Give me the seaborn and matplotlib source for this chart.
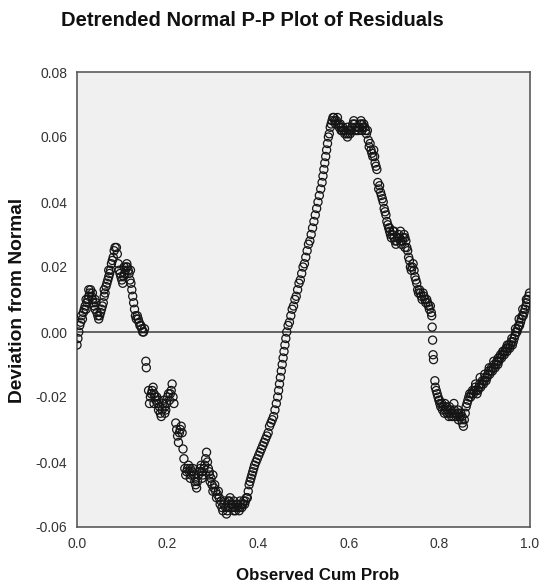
import numpy as np
import pandas as pd
import matplotlib
matplotlib.use("Agg")
import matplotlib.pyplot as plt
import seaborn as sns
from matplotlib.ticker import FixedLocator, FixedFormatter

# ---- data (observed cum prob vs deviation from normal) ----
obs_cum_prob = [
    0.000,0.002,0.004,0.006,0.008,0.010,0.012,0.014,0.016,0.018,0.020,0.022,0.024,0.026,0.028,0.030,0.032,
    0.034,0.036,0.038,0.040,0.042,0.044,0.046,0.048,0.050,0.052,0.054,
    0.056,0.058,0.060,0.062,0.064,0.066,0.068,0.070,0.072,0.074,0.076,0.078,0.080,0.082,0.084,0.087,
    0.089,0.091,0.093,0.095,0.097,0.099,0.101,0.103,0.105,0.107,0.109,0.111,0.113,0.115,0.117,0.119,0.121,0.123,0.125,0.127,0.129,0.131,0.133,0.135,0.137,0.139,0.141,0.143,0.145,0.147,0.149,
    0.152,0.153,
    0.158,0.160,0.162,0.164,0.166,0.168,0.170,0.172,0.174,0.176,0.178,0.180,0.182,0.184,0.186,0.188,0.190,0.192,0.194,0.196,0.198,0.200,0.202,0.204,0.206,0.208,0.210,0.212,0.214,
    0.218,0.220,0.222,0.224,0.226,0.228,0.230,0.232,0.234,0.236,
    0.238,0.240,0.242,0.244,0.246,0.248,0.250,0.252,0.254,0.256,0.258,0.260,0.262,0.264,0.266,0.268,0.270,0.272,0.274,0.276,0.278,0.280,0.282,0.284,0.286,0.288,0.290,0.292,0.294,0.296,0.298,0.300,0.302,0.304,0.306,0.308,0.310,0.312,0.314,0.316,0.318,
    0.320,0.322,0.324,0.326,0.328,0.330,0.332,0.334,0.336,0.338,0.340,0.342,0.344,0.346,0.348,0.350,0.352,0.354,0.356,0.358,0.360,0.362,0.364,0.366,0.368,0.370,0.372,0.374,
    0.376,0.378,0.380,0.382,0.384,0.386,0.388,0.390,0.392,0.395,0.398,0.401,0.404,0.407,0.410,0.413,0.416,0.419,0.422,0.425,0.428,0.431,0.434,0.437,0.440,0.443,0.445,0.447,0.449,0.451,0.453,0.455,0.457,0.459,0.461,0.463,0.466,0.469,0.472,0.475,0.478,0.481,0.484,0.487,0.490,0.493,0.496,0.499,0.502,0.505,0.508,0.511,0.514,0.517,0.520,0.523,0.526,0.529,0.532,0.535,0.538,0.541,0.543,0.545,0.547,0.549,0.551,0.553,0.555,0.557,0.559,0.561,0.563,0.565,
    0.567,0.569,0.571,0.573,0.575,0.577,0.579,0.581,0.583,0.585,0.587,0.589,0.591,0.593,0.595,0.597,0.599,0.601,0.603,0.605,0.607,0.609,0.611,0.613,0.615,0.617,0.619,0.621,0.623,0.625,0.627,0.629,0.631,0.633,0.635,0.637,0.639,0.641,
    0.643,0.645,0.647,0.649,0.651,0.653,0.655,0.657,0.658,0.660,0.662,
    0.664,0.666,0.668,0.670,0.672,0.674,0.676,0.678,0.680,0.682,0.684,0.686,0.688,0.690,0.692,0.694,0.696,0.698,0.700,0.702,0.704,0.706,0.708,0.710,0.712,0.714,0.716,0.718,0.720,0.722,0.724,0.726,0.728,0.730,0.732,0.734,0.736,0.738,0.740,0.742,0.744,0.746,0.748,0.750,0.752,0.754,0.756,0.758,0.760,0.762,0.764,0.766,0.768,0.770,0.772,0.774,0.776,0.778,0.780,0.782,0.783,0.784,0.785,0.786,0.787,
    0.790,0.791,0.793,0.795,0.797,0.799,0.801,0.803,0.805,0.807,0.809,0.811,0.813,0.815,0.817,0.819,0.821,0.823,0.825,0.827,0.829,0.831,0.833,0.835,0.837,0.839,0.841,0.843,0.845,0.847,0.849,0.851,0.853,0.855,0.857,0.859,0.861,0.863,0.865,0.867,
    0.869,0.871,0.873,0.875,0.877,0.879,0.881,0.883,0.885,0.887,0.889,0.891,0.893,0.895,0.897,0.899,0.901,0.903,0.905,0.907,0.909,0.911,0.913,0.915,0.917,0.919,0.921,0.923,0.925,0.927,0.929,0.931,0.933,0.935,0.937,0.939,0.941,0.943,0.945,0.947,0.949,0.951,0.953,0.955,0.957,0.959,0.961,0.963,0.965,0.967,0.969,0.971,0.973,0.975,0.977,0.979,0.981,0.983,0.985,0.987,0.989,0.991,0.993,0.995,0.997,0.999,
]
deviation = [
    -0.004,-0.002,0.000,0.002,0.003,0.005,0.004,0.006,0.007,0.008,0.007,0.009,0.010,0.011,0.012,0.013,0.011,
    0.010,0.009,0.008,0.007,0.009,0.006,0.005,0.004,0.005,0.006,0.007,
    0.008,0.009,0.011,0.012,0.014,0.015,0.016,0.017,0.018,0.019,0.021,0.022,0.023,0.025,0.026,0.026,
    0.024,0.021,0.019,0.018,0.017,0.016,0.015,0.017,0.018,0.019,0.020,0.020,0.019,0.018,0.016,0.015,0.013,0.011,0.009,0.007,0.005,0.004,0.005,0.004,0.003,0.002,0.002,0.001,0.000,0.000,0.001,
    -0.009,-0.011,
    -0.018,-0.022,-0.020,-0.019,-0.018,-0.017,-0.019,-0.020,-0.021,-0.020,-0.022,-0.024,-0.023,-0.025,-0.026,-0.024,-0.022,-0.021,-0.023,-0.024,-0.022,-0.020,-0.019,-0.021,-0.019,-0.018,-0.016,-0.020,-0.022,
    -0.028,-0.030,-0.032,-0.034,-0.031,-0.030,-0.029,-0.031,-0.036,-0.039,
    -0.042,-0.044,-0.043,-0.042,-0.041,-0.043,-0.045,-0.044,-0.043,-0.042,-0.044,-0.046,-0.047,-0.048,-0.046,-0.044,-0.043,-0.042,-0.041,-0.043,-0.044,-0.042,-0.041,-0.039,-0.037,-0.040,-0.042,-0.044,-0.046,-0.045,-0.047,-0.049,-0.048,-0.047,-0.049,-0.051,-0.050,-0.049,-0.051,-0.053,-0.052,
    -0.054,-0.055,-0.053,-0.052,-0.054,-0.056,-0.055,-0.054,-0.052,-0.051,-0.053,-0.054,-0.053,-0.052,-0.054,-0.055,-0.054,-0.053,-0.054,-0.055,-0.054,-0.053,-0.054,-0.053,-0.052,-0.053,-0.052,-0.051,
    -0.051,-0.049,-0.047,-0.046,-0.045,-0.044,-0.043,-0.042,-0.041,-0.040,-0.039,-0.038,-0.037,-0.036,-0.035,-0.034,-0.033,-0.032,-0.031,-0.029,-0.028,-0.027,-0.026,-0.024,-0.022,-0.020,-0.018,-0.016,-0.014,-0.012,-0.010,-0.008,-0.006,-0.004,-0.002,0.000,0.002,0.003,0.005,0.007,0.008,0.010,0.011,0.013,0.015,0.016,0.018,0.020,0.021,0.023,0.025,0.027,0.028,0.030,0.032,0.034,0.036,0.038,0.040,0.042,0.044,0.046,0.048,0.050,0.052,0.054,0.056,0.058,0.060,0.061,0.063,0.064,0.065,0.066,
    0.066,0.065,0.064,0.065,0.066,0.064,0.063,0.064,0.063,0.062,0.063,0.062,0.061,0.062,0.061,0.060,0.061,0.062,0.061,0.062,0.063,0.064,0.065,0.064,0.063,0.062,0.063,0.062,0.063,0.064,0.065,0.064,0.063,0.064,0.063,0.062,0.061,0.062,
    0.059,0.057,0.058,0.056,0.055,0.054,0.056,0.054,0.052,0.051,0.050,
    0.046,0.044,0.045,0.043,0.042,0.041,0.040,0.038,0.037,0.036,0.034,0.033,0.032,0.031,0.030,0.029,0.030,0.031,0.029,0.028,0.027,0.028,0.029,0.030,0.029,0.028,0.027,0.028,0.029,0.030,0.029,0.028,0.026,0.025,0.023,0.022,0.020,0.019,0.020,0.021,0.019,0.017,0.016,0.015,0.013,0.012,0.013,0.012,0.011,0.010,0.012,0.011,0.010,0.009,0.010,0.009,0.008,0.007,0.008,0.006,0.005,0.0015,-0.0025,-0.007,-0.0085,
    -0.015,-0.017,-0.018,-0.019,-0.020,-0.021,-0.022,-0.023,-0.022,-0.024,-0.023,-0.025,-0.024,-0.023,-0.025,-0.024,-0.026,-0.025,-0.024,-0.026,-0.025,-0.026,-0.024,-0.025,-0.026,-0.025,-0.024,-0.025,-0.026,-0.025,-0.027,-0.028,-0.029,-0.027,-0.025,-0.023,-0.022,-0.021,-0.020,-0.019,
    -0.020,-0.019,-0.018,-0.019,-0.018,-0.017,-0.018,-0.019,-0.018,-0.017,-0.016,-0.017,-0.016,-0.015,-0.016,-0.015,-0.014,-0.015,-0.014,-0.013,-0.012,-0.013,-0.012,-0.011,-0.012,-0.011,-0.010,-0.011,-0.010,-0.009,-0.010,-0.009,-0.008,-0.007,-0.008,-0.007,-0.006,-0.007,-0.006,-0.005,-0.006,-0.005,-0.004,-0.005,-0.004,-0.003,-0.004,-0.003,-0.002,-0.001,0.000,0.000,0.001,0.002,0.002,0.003,0.004,0.005,0.005,0.006,0.007,0.008,0.009,0.010,0.011,0.012,
]
# additional points seen inside the thicker bands of the reference
extra_obs_cum_prob = [
    0.020,0.026,0.034,0.040,0.060,0.070,0.104,0.110,0.118,
    0.170,0.180,0.194,0.250,0.262,0.276,0.292,0.300,0.334,0.346,0.360,
    0.583,0.597,0.613,0.629,0.690,0.700,0.714,0.724,
    0.800,0.812,0.822,0.832,0.842,0.850,
    0.880,0.890,0.900,0.910,0.920,0.930,0.940,0.950,0.960,0.968,0.976,0.984,0.992,
]
extra_deviation = [
    0.010,0.013,0.012,0.010,0.013,0.019,0.020,0.021,0.019,
    -0.022,-0.021,-0.025,-0.042,-0.045,-0.045,-0.043,-0.044,-0.052,-0.055,-0.052,
    0.062,0.063,0.062,0.062,0.032,0.031,0.031,0.026,
    -0.021,-0.022,-0.023,-0.022,-0.027,-0.026,
    -0.016,-0.014,-0.013,-0.011,-0.009,-0.008,-0.006,-0.004,-0.002,0.001,0.004,0.007,0.010,
]
x_ticks = [0.0, 0.2, 0.4, 0.6, 0.8, 1.0]
x_tick_labels = ["0.0", "0.2", "0.4", "0.6", "0.8", "1.0"]
y_ticks = [-0.06, -0.04, -0.02, 0.00, 0.02, 0.04, 0.06, 0.08]
y_tick_labels = ["-0.06", "-0.04", "-0.02", "0.00", "0.02", "0.04", "0.06", "0.08"]
title = "Detrended Normal P-P Plot of Residuals"
x_label = "Observed Cum Prob"
y_label = "Deviation from Normal"

assert len(obs_cum_prob) == len(deviation), (len(obs_cum_prob), len(deviation))
assert len(extra_obs_cum_prob) == len(extra_deviation)
df = pd.DataFrame({"obs": obs_cum_prob + extra_obs_cum_prob,
                   "dev": deviation + extra_deviation})

sns.set_style("white")
plt.rcParams["font.family"] = ["Liberation Sans", "DejaVu Sans"]
plt.rcParams["axes.unicode_minus"] = False

W, H = 540, 584
fig = plt.figure(figsize=(W / 100, H / 100), dpi=100)
fig.patch.set_facecolor("white")
ax = fig.add_axes([77 / W, 1 - 527 / H, 453 / W, 455 / H])
ax.set_facecolor("#f0f0f0")

ax.axhline(0, color="#4a4a4a", lw=1.2, zorder=1.5)
sns.scatterplot(data=df, x="obs", y="dev", ax=ax, marker="o", s=34,
                linewidth=0.9, zorder=3, legend=False)
for coll in ax.collections:
    coll.set_facecolor("none")
    coll.set_edgecolor("#151515")

ax.set_xlim(0, 1)
ax.set_ylim(-0.06, 0.08)
ax.xaxis.set_major_locator(FixedLocator(x_ticks))
ax.xaxis.set_major_formatter(FixedFormatter(x_tick_labels))
ax.yaxis.set_major_locator(FixedLocator(y_ticks))
ax.yaxis.set_major_formatter(FixedFormatter(y_tick_labels))
ax.tick_params(axis="both", direction="out", length=5, width=1.2, color="#555555",
               labelsize=10, labelcolor="#333333", pad=2)
for sp in ax.spines.values():
    sp.set_color("#5a5a5a")
    sp.set_linewidth(1.2)
ax.set_xlabel("")
ax.set_ylabel("")

fig.text(252 / W, 1 - 21 / H, title, ha="center", va="center",
         fontsize=14.5, fontweight="bold", color="#111111")
fig.text(318 / W, 1 - 576 / H, x_label, ha="center", va="center",
         fontsize=12.2, fontweight="bold", color="#111111")
fig.text(18 / W, 1 - 300 / H, y_label, ha="center", va="center", rotation=90,
         fontsize=13.8, fontweight="bold", color="#111111")

fig.savefig("out.png", dpi=100, facecolor="white")
